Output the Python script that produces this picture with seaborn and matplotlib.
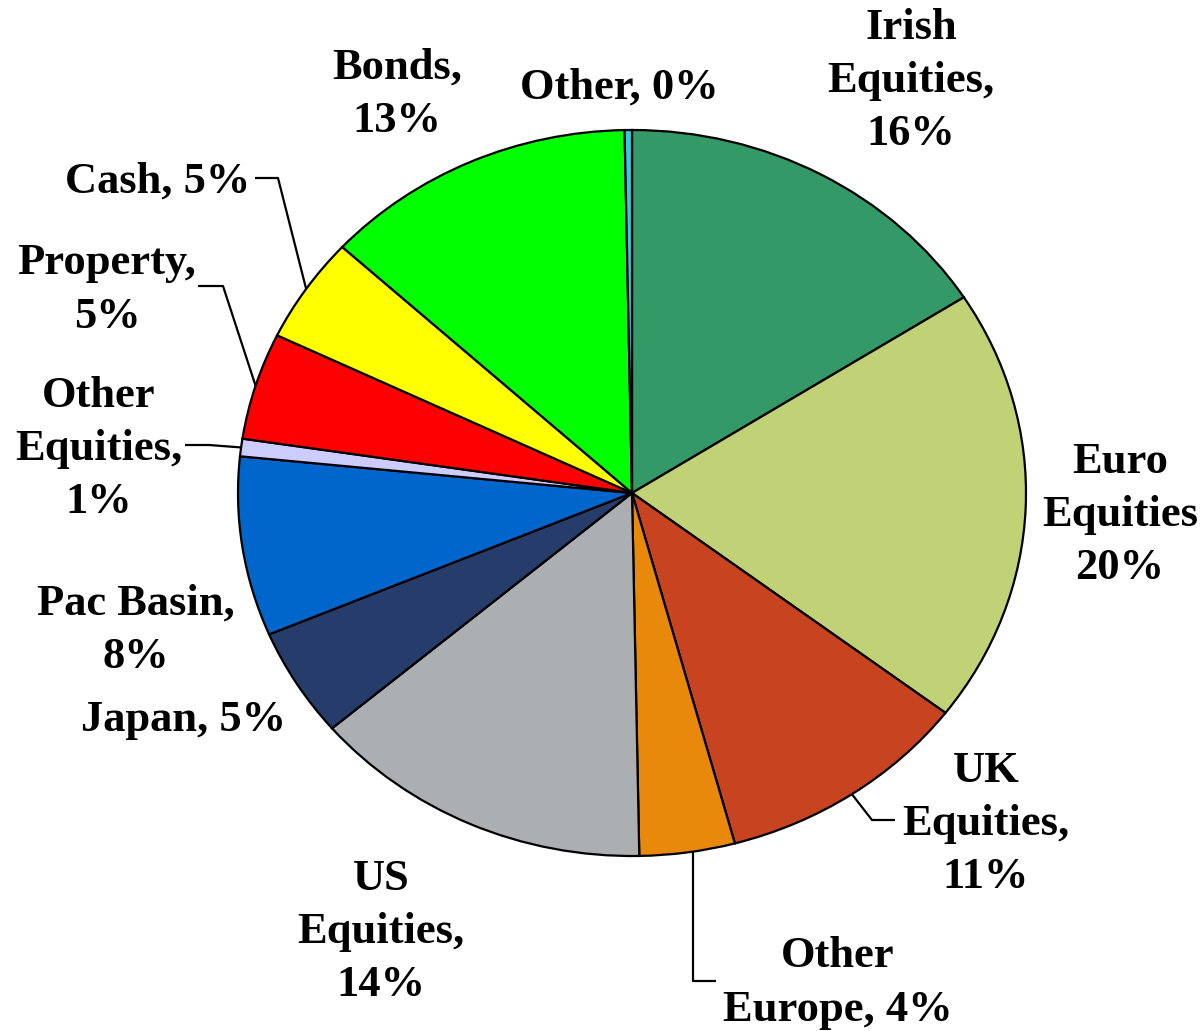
import numpy as np
import matplotlib
matplotlib.use("Agg")
import matplotlib.pyplot as plt
import seaborn as sns

# ---- data ----
categories = ["Irish Equities", "Euro Equities", "UK Equities", "Other Europe",
              "US Equities", "Japan", "Pac Basin", "Other Equities",
              "Property", "Cash", "Bonds", "Other"]
shares = [15.94, 19.42, 10.44, 3.91, 14.07, 4.86, 7.98, 0.78, 4.76, 4.70, 12.85, 0.30]
label_texts = ["Irish\nEquities,\n16%", "Euro\nEquities\n20%", "UK\nEquities,\n11%",
               "Other\nEurope, 4%", "US\nEquities,\n14%", "Japan, 5%",
               "Pac Basin,\n8%", "Other\nEquities,\n1%", "Property,\n5%",
               "Cash, 5%", "Bonds,\n13%", "Other, 0%"]
colors = ["#339966", "#C0D275", "#C84320", "#E8890C", "#ABAFB2", "#263C6B",
          "#0066CC", "#CCCCFF", "#FF0000", "#FFFF00", "#00FF00", "#33CCDD"]

sns.set_theme(style="white")
plt.rcParams["font.family"] = ["Liberation Serif", "DejaVu Serif"]

W, H = 1202, 1031
CX, CY, RX, RY = 632, 493, 394, 363

def p2d(px, py):
    return ((px - CX) / RX, (CY - py) / RY)

fig = plt.figure(figsize=(W / 100, H / 100), dpi=100)
ax = fig.add_axes([0, 0, 1, 1])
wedges, _ = ax.pie(shares, colors=sns.color_palette(colors), startangle=90,
                   counterclock=False,
                   wedgeprops=dict(edgecolor="black", linewidth=1.6))
ax.set_aspect("auto")
ax.set_xlim(-CX / RX, (W - CX) / RX)
ax.set_ylim(-(H - CY) / RY, CY / RY)
ax.axis("off")

# label block centres (pixels)
label_pos = [(911, 81), (1120, 515), (986, 824), (838, 983), (381, 932),
             (183, 720), (136, 630), (99, 449), (107, 290), (158, 182),
             (397, 94), (619, 88)]
for txt, (px, py) in zip(label_texts, label_pos):
    x, y = p2d(px, py)
    ax.text(x, y, txt, ha="center", va="center", multialignment="center",
            fontsize=32, fontweight="bold", color="black", linespacing=1.43)

# leader lines: elbow points (pixels) for selected slices
leaders = {
    "UK Equities": [(872, 820), (895, 820)],
    "Other Europe": [None, (692.7, 980.7), (716, 980.7)],
    "Cash": [(278, 178), (255, 178)],
    "Property": [(223, 286), (198, 286)],
    "Other Equities": [(209, 445), (185, 445)],
}
for name, pts in leaders.items():
    w = wedges[categories.index(name)]
    mid = np.deg2rad((w.theta1 + w.theta2) / 2)
    ex, ey = np.cos(mid), np.sin(mid)
    xs, ys = [ex], [ey]
    for p in pts:
        if p is None:
            xs.append(p2d(692.7, 0)[0]); ys.append(ey)
            continue
        dx, dy = p2d(*p)
        xs.append(dx); ys.append(dy)
    if name == "Other Europe":
        xs[0] = xs[1]
    ax.plot(xs, ys, color="black", lw=1.6, solid_capstyle="butt")

fig.savefig("out.png", dpi=100)
